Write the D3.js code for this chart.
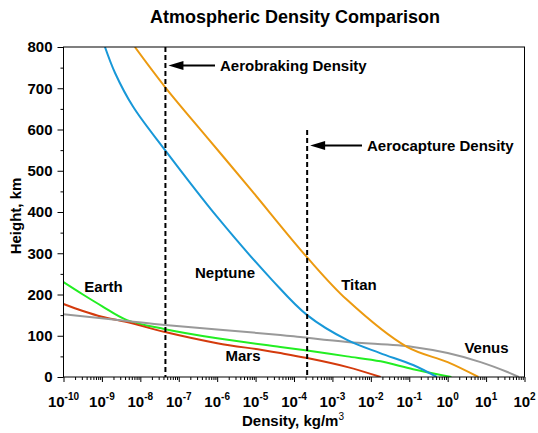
<!DOCTYPE html>
<html><head><meta charset="utf-8">
<script src="https://cdn.jsdelivr.net/npm/d3@7"></script>
<style>body{margin:0;background:#fff}svg{display:block}text{font-family:"Liberation Sans",Arial,sans-serif;font-weight:bold;fill:#000}</style>
</head><body><svg id="c" width="538" height="433"></svg>
<script>
const earthDensity = [1e-10, 3.2e-10, 1e-9, 4.5e-9, 4.4e-8, 1e-6, 4.4e-5, 2.2e-4, 2.4e-3, 1.8e-2, 0.126, 1.25];
const earthHeight  = [230, 200, 172, 138, 116, 94, 73, 64, 50, 38, 19, 0];
const marsDensity  = [1e-10, 3.2e-10, 1e-9, 4.5e-9, 4.4e-8, 1e-6, 1.35e-5, 4.4e-5, 2.2e-4, 2.5e-3, 1.8e-2];
const marsHeight   = [177, 160, 146, 133, 109, 82, 66, 58, 46, 24, 0];
const venusDensity = [1e-10, 4.5e-9, 4.4e-8, 4.4e-5, 1.45e-4, 2.4e-3, 0.126, 1, 7.2, 36, 71];
const venusHeight  = [152, 136, 126, 102, 97, 85, 73, 58, 36, 12, 0];
const neptuneDensity = [1.2e-9, 2.2e-9, 6.5e-9, 4.4e-8, 1e-6, 2.7e-5, 2.2e-4, 2.4e-3, 1.74e-2, 0.126, 0.52];
const neptuneHeight  = [800, 737, 655, 550, 388, 235, 150, 90, 58, 29, 0];
const titanDensity = [7.2e-9, 4.4e-8, 5.8e-7, 7e-6, 2.2e-4, 2.4e-3, 8.7e-2, 1, 6.3];
const titanHeight  = [800, 703, 578, 458, 290, 187, 73, 36, 0];
const seriesNames = ["Earth", "Mars", "Venus", "Neptune", "Titan"];
const aerobrakingDensity = 4.5e-8;
const aerocaptureDensity = 2.2e-4;
const xTickExponents = [-10,-9,-8,-7,-6,-5,-4,-3,-2,-1,0,1,2];
const yTickValues = [0,100,200,300,400,500,600,700,800];

const series = [
  {name:"Earth", d:earthDensity, h:earthHeight, color:"#22ee22", lx:103.5, ly:292},
  {name:"Mars", d:marsDensity, h:marsHeight, color:"#d43a0c", lx:243, ly:361},
  {name:"Venus", d:venusDensity, h:venusHeight, color:"#999999", lx:486.5, ly:353},
  {name:"Neptune", d:neptuneDensity, h:neptuneHeight, color:"#1898d8", lx:225, ly:278},
  {name:"Titan", d:titanDensity, h:titanHeight, color:"#ec9a10", lx:359, ly:289.5}
];

const svg = d3.select("#c");
const L=63.5, R=524.5, T=47, B=377;
const x = d3.scaleLog().domain([1e-10,1e2]).range([L,R]);
const y = d3.scaleLinear().domain([0,800]).range([B,T]);

svg.append("text").attr("x",295).attr("y",23).attr("text-anchor","middle").style("font-size","18px").text("Atmospheric Density Comparison");

const g = svg.append("g");
const line = d3.line().x(p=>x(p[0])).y(p=>y(p[1])).curve(d3.curveCatmullRom.alpha(0.5));
svg.append("clipPath").attr("id","clp").append("rect").attr("x",L).attr("y",T).attr("width",R-L).attr("height",B-T);
series.forEach(s=>{
  g.append("path").attr("d", line(s.d.map((v,i)=>[v,s.h[i]]))).attr("fill","none")
   .attr("stroke",s.color).attr("stroke-width",2).attr("clip-path","url(#clp)");
});
const xb = x(aerobrakingDensity), xc = x(aerocaptureDensity);
g.append("line").attr("x1",xb).attr("x2",xb).attr("y1",T).attr("y2",B)
  .attr("stroke","#000").attr("stroke-width",2).attr("stroke-dasharray","5,3");
g.append("line").attr("x1",xc).attr("x2",xc).attr("y1",130).attr("y2",B)
  .attr("stroke","#000").attr("stroke-width",2).attr("stroke-dasharray","5,3");
function arrow(x0, tip, yy){
  g.append("line").attr("x1",x0).attr("y1",yy).attr("x2",tip+10).attr("y2",yy).attr("stroke","#000").attr("stroke-width",2);
  g.append("path").attr("d",`M${tip},${yy} L${tip+15},${yy-4.5} L${tip+15},${yy+4.5} Z`).attr("fill","#000");
}
arrow(215, xb+3, 65.5);
g.append("text").attr("x",220).attr("y",70.5).style("font-size","15px").text("Aerobraking Density");
arrow(362, xc+3, 145.5);
g.append("text").attr("x",367).attr("y",151).style("font-size","15px").text("Aerocapture Density");

series.forEach(s=>{
  g.append("text").attr("x",s.lx).attr("y",s.ly).attr("text-anchor","middle").style("font-size","15px").text(s.name);
});

svg.append("rect").attr("x",L).attr("y",T).attr("width",R-L).attr("height",B-T).attr("fill","none").attr("stroke","#000").attr("stroke-width",1);

const minor = [];
xTickExponents.slice(0,-1).forEach(e=>{for(let k=2;k<=9;k++) minor.push(k*Math.pow(10,e));});
const xa = svg.append("g").attr("transform",`translate(0,${B})`);
xa.call(d3.axisBottom(x).tickValues(minor).tickSize(3).tickFormat(""));
xa.append("g").call(d3.axisBottom(x).tickValues(xTickExponents.map(e=>Math.pow(10,e))).tickSize(5).tickFormat(""));
xa.selectAll(".domain").remove();
xa.selectAll("line").attr("stroke","#000");
xTickExponents.forEach(e=>{
  const t = xa.append("text").attr("x",x(Math.pow(10,e))).attr("y",30).attr("text-anchor","middle").style("font-size","15px");
  t.append("tspan").text("10");
  t.append("tspan").attr("dy",-7).style("font-size","10px").text(String(e));
});
svg.append("text").attr("x",293).attr("y",426).attr("text-anchor","middle").style("font-size","15px")
  .call(t=>{t.append("tspan").text("Density, kg/m"); t.append("tspan").attr("dy",-6).style("font-size","10px").style("font-weight","normal").text("3");});

const ya = svg.append("g").attr("transform",`translate(${L},0)`);
ya.call(d3.axisLeft(y).tickValues(d3.range(50,800,100)).tickSize(3).tickFormat(""));
ya.append("g").call(d3.axisLeft(y).tickValues(yTickValues).tickSize(6).tickPadding(5).tickFormat(d3.format("d")));
ya.selectAll(".domain").remove();
ya.selectAll("line").attr("stroke","#000");
ya.selectAll("text").style("font-size","15px").style("font-family","'Liberation Sans',Arial,sans-serif").style("font-weight","bold").attr("fill","#000");
svg.append("text").attr("transform","translate(21,216) rotate(-90)").attr("text-anchor","middle").style("font-size","15px").text("Height, km");
</script></body></html>
